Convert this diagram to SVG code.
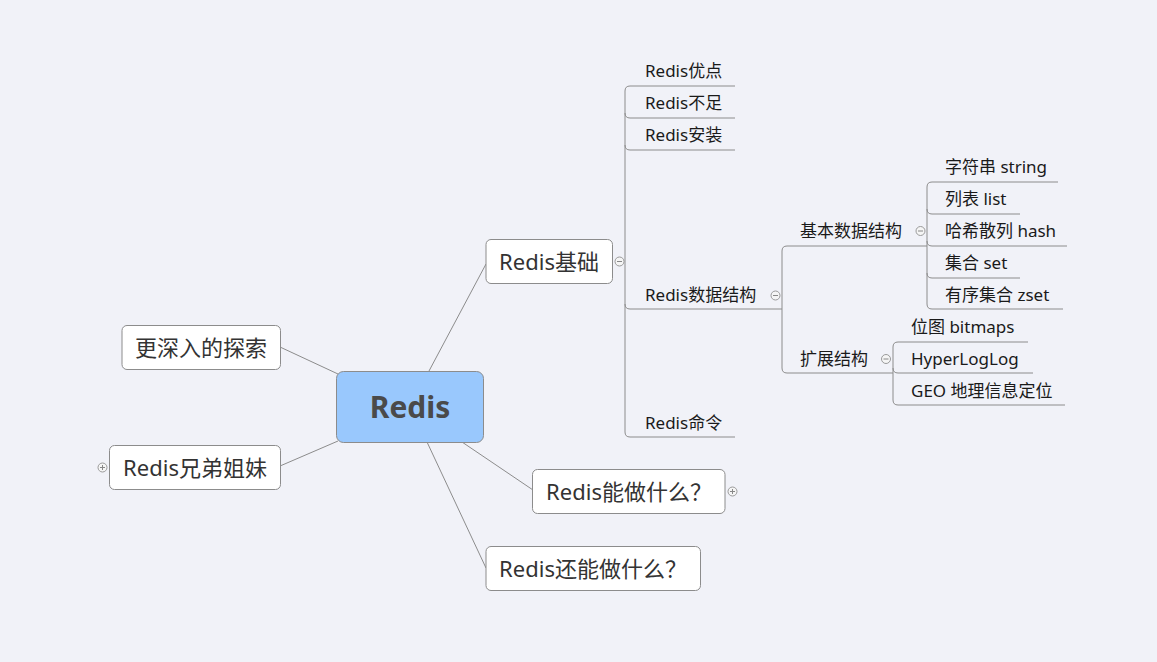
<svg xmlns="http://www.w3.org/2000/svg" width="1157" height="662" viewBox="0 0 1157 662">
<style>
.bg{fill:#f1f2f8}
.node{fill:#ffffff;stroke:#8c8c8c;stroke-width:1}
.root{fill:#99c8fd;stroke:#8c8c8c;stroke-width:1}
.t22{font-family:"Noto Sans","Noto Sans CJK SC",sans-serif;font-size:22px;fill:#333;text-anchor:middle}
.t17{font-family:"Noto Sans","Noto Sans CJK SC",sans-serif;font-size:17px;fill:#1a1a1a}
.troot{font-family:"Noto Sans","Noto Sans CJK SC",sans-serif;font-size:30px;font-weight:bold;fill:#4a4a4a;text-anchor:middle}
.ln{fill:none;stroke:#8c8c8c;stroke-width:1}
.tg{fill:#f5f5f5;stroke:#9a9a9a;stroke-width:1}
.tgs{fill:none;stroke:#888;stroke-width:1}
</style>
<rect class="bg" x="0" y="0" width="1157" height="662"/>
<g id="connectors">
  <line class="ln" x1="429" y1="371" x2="486" y2="264"/>
  <line class="ln" x1="280" y1="347" x2="338" y2="374"/>
  <line class="ln" x1="280" y1="466" x2="338" y2="441"/>
  <line class="ln" x1="462" y1="442" x2="533" y2="490"/>
  <line class="ln" x1="427" y1="442" x2="486" y2="568"/>
  <path class="ln" d="M735,86 H630 Q625,86 625,91 V432 Q625,437 630,437 H735"/>
  <path class="ln" d="M625,113 Q625,118 630,118 H735"/>
  <path class="ln" d="M625,145 Q625,150 630,150 H735"/>
  <path class="ln" d="M625,304 Q625,309 630,309 H782"/>
  <path class="ln" d="M927,246 H787 Q782,246 782,251 V368 Q782,373 787,373 H893"/>
  <path class="ln" d="M1058,182 H932 Q927,182 927,187 V304 Q927,309 932,309 H1063"/>
  <path class="ln" d="M927,209 Q927,214 932,214 H1020"/>
  <path class="ln" d="M927,241 Q927,246 932,246 H1067"/>
  <path class="ln" d="M927,273 Q927,278 932,278 H1020"/>
  <path class="ln" d="M1028,342 H898 Q893,342 893,347 V400 Q893,405 898,405 H1065"/>
  <path class="ln" d="M893,368 Q893,373 898,373 H1033"/>
</g>
<g id="root">
  <rect class="root" x="336.5" y="371.5" width="147" height="71" rx="7"/>
  <text class="troot" x="410" y="418">Redis</text>
</g>
<g id="n-jichu">
  <rect class="node" x="486" y="239.5" width="126.5" height="44" rx="5"/>
  <text class="t22" x="549" y="270">Redis基础</text>
  <circle class="tg" cx="619.5" cy="261.5" r="4.5"/>
  <line class="tgs" x1="617" y1="261.5" x2="622" y2="261.5"/>
</g>
<g id="n-shenru">
  <rect class="node" x="122" y="325.5" width="158.5" height="44" rx="5"/>
  <text class="t22" x="201" y="356">更深入的探索</text>
</g>
<g id="n-xiongdi">
  <rect class="node" x="109.5" y="445.5" width="171" height="44" rx="5"/>
  <text class="t22" x="195" y="476">Redis兄弟姐妹</text>
  <circle class="tg" cx="102.5" cy="467.5" r="4.5"/>
  <line class="tgs" x1="100" y1="467.5" x2="105" y2="467.5"/>
  <line class="tgs" x1="102.5" y1="465" x2="102.5" y2="470"/>
</g>
<g id="n-nengzuo">
  <rect class="node" x="532.5" y="469.5" width="192.5" height="44" rx="5"/>
  <text class="t22" x="629" y="500">Redis能做什么？</text>
  <circle class="tg" cx="732.5" cy="491.5" r="4.5"/>
  <line class="tgs" x1="730" y1="491.5" x2="735" y2="491.5"/>
  <line class="tgs" x1="732.5" y1="489" x2="732.5" y2="494"/>
</g>
<g id="n-hainengzuo">
  <rect class="node" x="486" y="546.5" width="214.5" height="44" rx="5"/>
  <text class="t22" x="593" y="577">Redis还能做什么？</text>
</g>
<g id="n-youdian"><text class="t17" x="645" y="77">Redis优点</text></g>
<g id="n-buzu"><text class="t17" x="645" y="109">Redis不足</text></g>
<g id="n-anzhuang"><text class="t17" x="645" y="141">Redis安装</text></g>
<g id="n-shujujiegou">
  <text class="t17" x="645" y="301">Redis数据结构</text>
  <circle class="tg" cx="775.5" cy="295.5" r="4.5"/>
  <line class="tgs" x1="773" y1="295.5" x2="778" y2="295.5"/>
</g>
<g id="n-mingling"><text class="t17" x="645" y="429">Redis命令</text></g>
<g id="n-jiben">
  <text class="t17" x="800" y="237">基本数据结构</text>
  <circle class="tg" cx="920.5" cy="231" r="4.5"/>
  <line class="tgs" x1="918" y1="231" x2="923" y2="231"/>
</g>
<g id="n-kuozhan">
  <text class="t17" x="800" y="365">扩展结构</text>
  <circle class="tg" cx="886" cy="359" r="4.5"/>
  <line class="tgs" x1="883.5" y1="359" x2="888.5" y2="359"/>
</g>
<g id="n-string"><text class="t17" x="945" y="173">字符串 string</text></g>
<g id="n-list"><text class="t17" x="945" y="205">列表 list</text></g>
<g id="n-hash"><text class="t17" x="945" y="237">哈希散列 hash</text></g>
<g id="n-set"><text class="t17" x="945" y="269">集合 set</text></g>
<g id="n-zset"><text class="t17" x="945" y="301">有序集合 zset</text></g>
<g id="n-bitmaps"><text class="t17" x="911" y="333">位图 bitmaps</text></g>
<g id="n-hll"><text class="t17" x="911" y="365">HyperLogLog</text></g>
<g id="n-geo"><text class="t17" x="911" y="397">GEO 地理信息定位</text></g>
</svg>
